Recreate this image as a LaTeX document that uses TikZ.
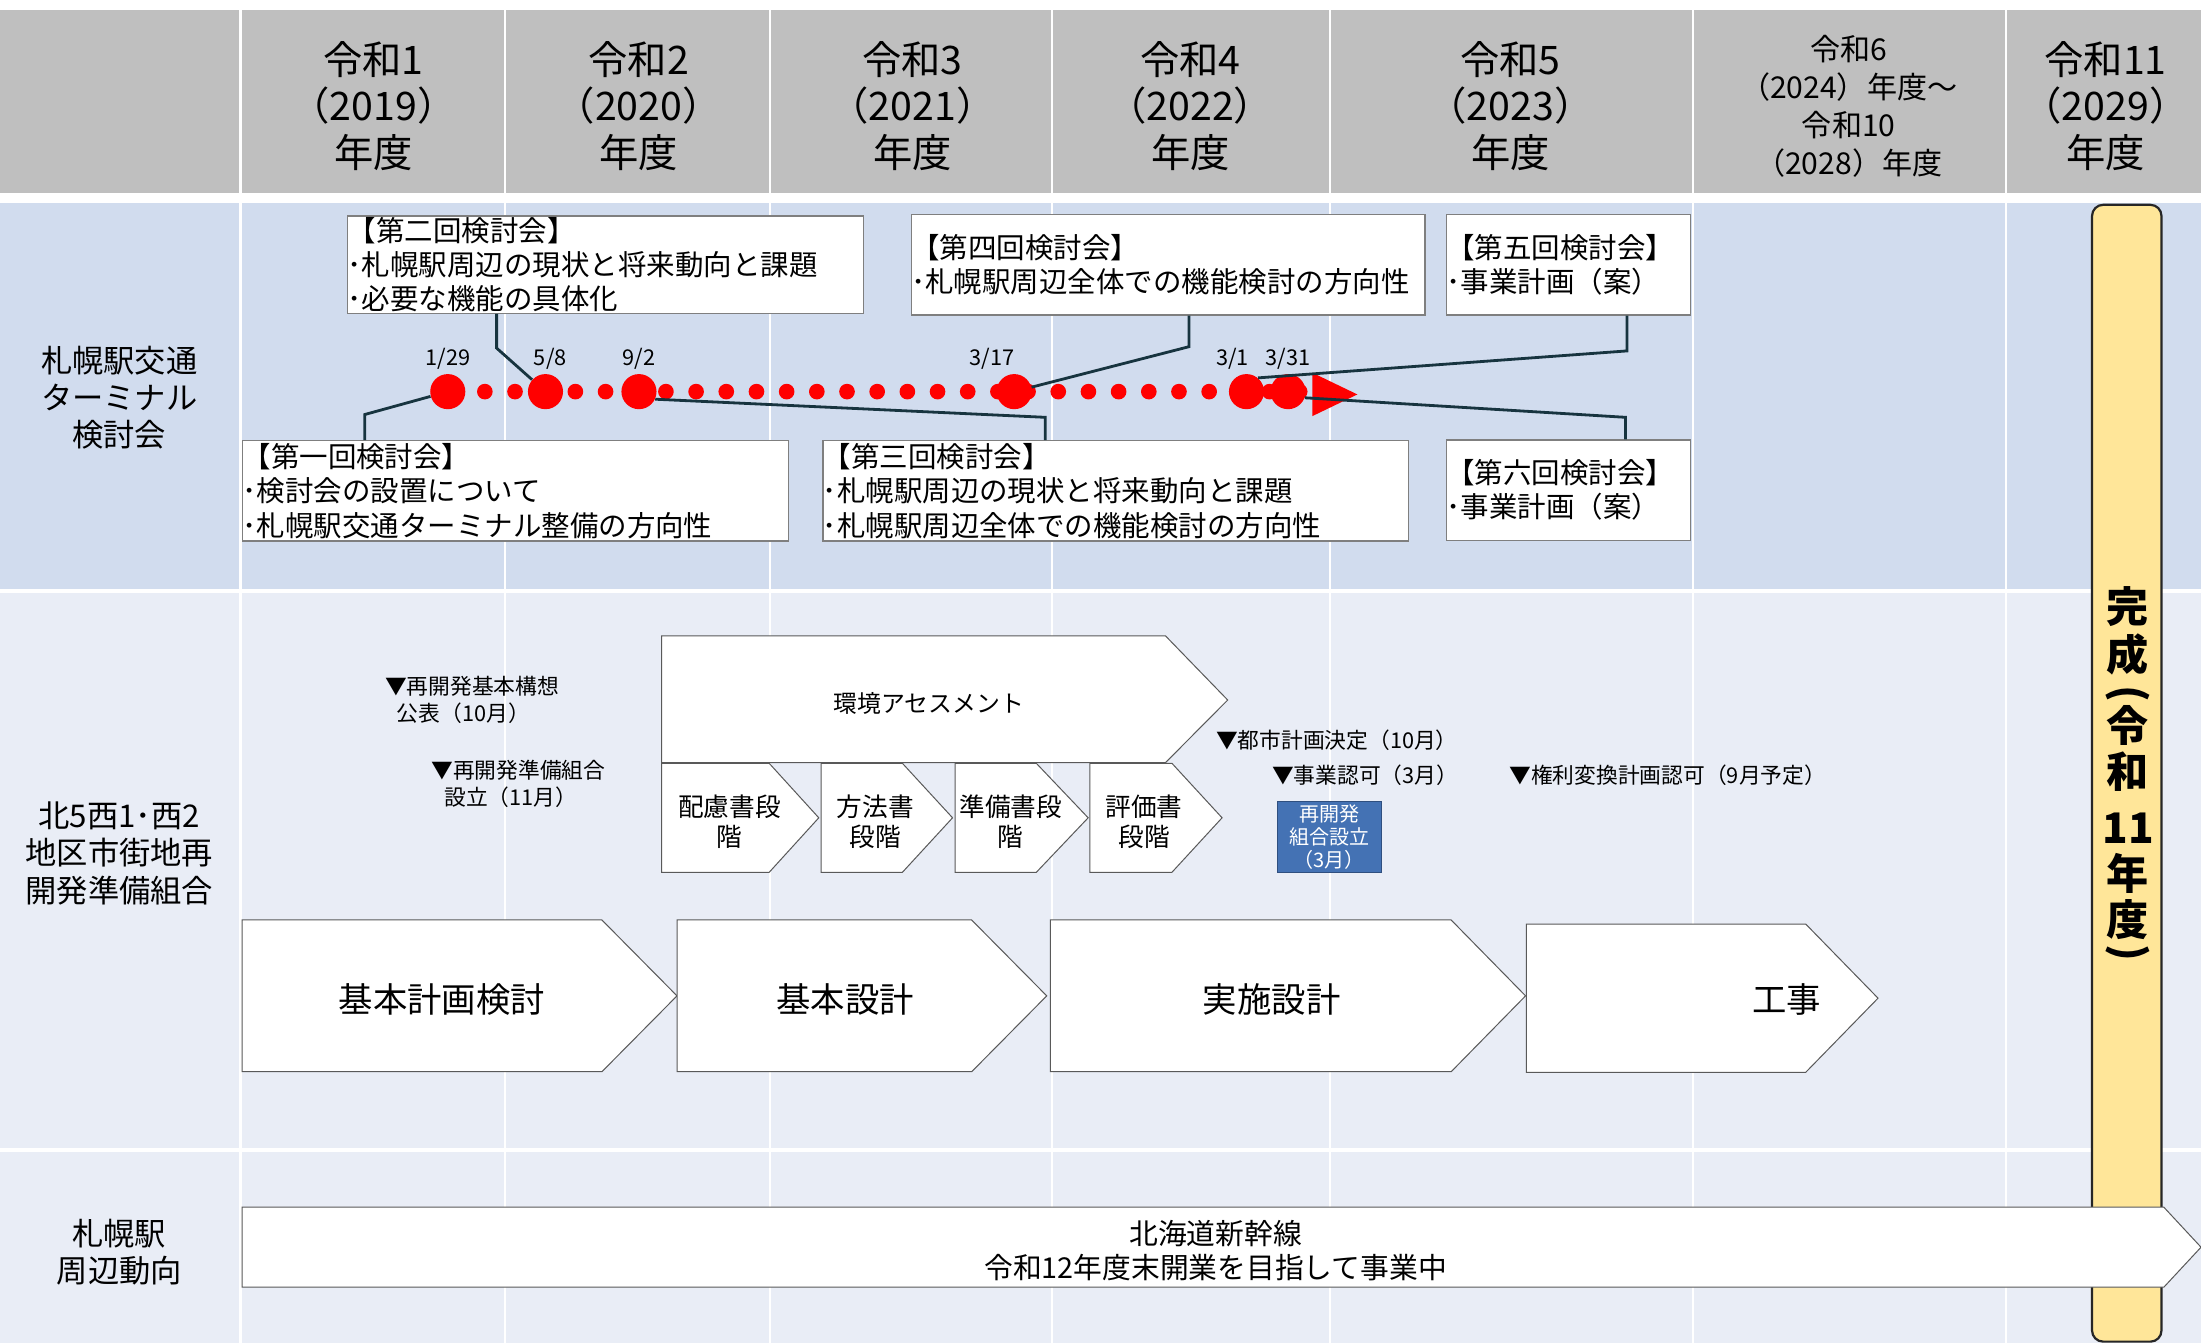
\documentclass[tikz,border=0pt]{standalone}
\usepackage{fontspec}
\setmainfont{Noto Sans CJK JP}
\usetikzlibrary{positioning}
\definecolor{hdrgray}{HTML}{BFBFBF}
\definecolor{bandA}{HTML}{D1DCEE}
\definecolor{bandB}{HTML}{E9EDF6}
\definecolor{boxline}{HTML}{7F7F7F}
\definecolor{chevline}{HTML}{595959}
\definecolor{connc}{HTML}{17343F}
\definecolor{kumiblue}{HTML}{4472B4}
\definecolor{kumiline}{HTML}{2F4F7F}
\definecolor{goalfill}{HTML}{FFE699}
\tikzset{
  hdr/.style={align=center, inner sep=0pt, font=\fontsize{19.6}{23.1}\selectfont},
  rowlbl/.style={align=center, inner sep=0pt, font=\fontsize{15.6}{18.5}\selectfont},
  kaibox/.style 2 args={draw=boxline, fill=white, line width=0.6pt, anchor=north west,
    inner xsep=0pt, inner ysep=0pt, text width=#1, minimum width=#1, minimum height=#2,
    align=left, font=\fontsize{14.2}{17.15}\selectfont},
  bigdot/.style={circle, fill=red, inner sep=0pt, minimum size=17.5pt},
  datelbl/.style={inner sep=0pt, font=\fontsize{10.85}{12}\selectfont},
  conn/.style={draw=connc, line width=1.4pt},
  chev/.style={draw=chevline, fill=white, line width=0.5pt},
  marktxt/.style={anchor=west, align=left, inner sep=0pt, font=\fontsize{10.85}{13.3}\selectfont},
  stagetxt/.style={align=center, inner sep=0pt, font=\fontsize{12.8}{14.9}\selectfont},
  bigtxt/.style={inner sep=0pt, font=\fontsize{17.15}{20}\selectfont},
  kumibox/.style={draw=kumiline, fill=kumiblue, text=white, line width=0.5pt,
    minimum width=51.8pt, minimum height=35.3pt, inner sep=0pt, align=center,
    font=\fontsize{10}{11.6}\selectfont},
  goalbar/.style={draw=black!85, fill=goalfill, line width=1.1pt, rounded corners=5.5pt,
    minimum width=34.6pt, minimum height=566.9pt, inner sep=0pt},
  goaltxt/.style={inner sep=0pt, font=\fontsize{21}{21}\selectfont\bfseries}
}
\begin{document}
\begin{tikzpicture}[x=0.7pt, y=-0.7pt]
  \useasboundingbox (0,0) rectangle (1568,957);
  % bands
  \fill[white] (0,0) rectangle (1568,957);
  \fill[hdrgray] (0,6.8) rectangle (1568,137.6);
  \fill[bandA] (0,144.6) rectangle (1568,419.8);
  \fill[bandB] (0,422.2) rectangle (1568,818);
  \fill[bandB] (0,820.5) rectangle (1568,957);
  \foreach \x in {171.4,359.8,548.7,749.6,947.2,1206.2,1428.8}
    \draw[white, line width=1.1pt] (\x,6.8) -- (\x,957);

  % header
  \foreach \x/\t [count=\i] in {266/{令和1\\（2019）\\年度}, 455/{令和2\\（2020）\\年度},
      650/{令和3\\（2021）\\年度}, 848/{令和4\\（2022）\\年度},
      1076/{令和5\\（2023）\\年度}, 1500/{令和11\\（2029）\\年度}}
    \node[hdr] (hd\i) at (\x,75.5) {\t};
  \node[hdr, font=\fontsize{15}{18.9}\selectfont] (hd7) at (1317,75.5)
    {令和6\\（2024）年度～\\令和10\\（2028）年度};

  % row labels
  \node[rowlbl] (rowa) at (85,283.5) {札幌駅交通\\ターミナル\\検討会};
  \node[rowlbl] (rowb) at (85,608) {北5西1･西2\\地区市街地再\\開発準備組合};
  \node[rowlbl] (rowc) at (85,892) {札幌駅\\周辺動向};

  % completion bar
  \node[goalbar] (goal) at (1515.1,550.85) {};
  \foreach \c/\y [count=\i] in {完/432.2, 成/466.1, 令/516.5, 和/549.7,
      11/590, 年/622, 度/655}
    \node[goaltxt] (gt\i) at (1516,\y) {\c};
  \node[goaltxt, rotate=-90] (gpo) at (1516,494) {(};
  \node[goaltxt, rotate=-90] (gpc) at (1516,679) {)};

  % meetings
  \node[kaibox={257.25pt}{48.5pt}] (kai2) at (247.3,153.5)
    {【第二回検討会】\\･札幌駅周辺の現状と将来動向と課題\\･必要な機能の具体化};
  \node[kaibox={256.2pt}{50pt}] (kai4) at (648.7,152.6)
    {【第四回検討会】\\･札幌駅周辺全体での機能検討の方向性};
  \node[kaibox={121.6pt}{50pt}] (kai5) at (1030,152.6)
    {【第五回検討会】\\･事業計画（案）};
  \node[kaibox={272.3pt}{50pt}] (kai1) at (172.4,313.5)
    {【第一回検討会】\\･検討会の設置について\\･札幌駅交通ターミナル整備の方向性};
  \node[kaibox={292pt}{50pt}] (kai3) at (585.8,313.5)
    {【第三回検討会】\\･札幌駅周辺の現状と将来動向と課題\\･札幌駅周辺全体での機能検討の方向性};
  \node[kaibox={121.6pt}{50pt}] (kai6) at (1030,313)
    {【第六回検討会】\\･事業計画（案）};

  % timeline
  \foreach \k in {0,...,27}
    \fill[red] ({345.4+21.5*\k},279) circle (3.9pt);
  \fill[red] (935,265.6) -- (967,281) -- (935,296.4) -- cycle;
  \node[bigdot] (d129) at (319,279) {};
  \node[bigdot] (d58) at (388.6,279) {};
  \node[bigdot] (d92) at (455.2,279) {};
  \node[bigdot] (d317) at (722.5,279) {};
  \node[bigdot] (d31) at (888,279) {};
  \node[bigdot] (d331) at (917.6,279) {};
  \node[datelbl, above=2pt of d129] (t129) {1/29};
  \node[datelbl, above=2pt of d58, xshift=2.4pt] (t58) {5/8};
  \node[datelbl, above=2pt of d92] (t92) {9/2};
  \node[datelbl, above=2pt of d317, xshift=-11pt] (t317) {3/17};
  \node[datelbl, above=2pt of d31, xshift=-7pt] (t31) {3/1};
  \node[datelbl, above=2pt of d331] (t331) {3/31};

  \draw[conn] (d129) -- (259.9,295.3) -- (kai1.north -| 259.9,0);
  \draw[conn] (kai2.south -| 353.8,0) -- (353.8,248) -- (d58);
  \draw[conn] (d92.-25) -- (744.6,297.3) -- (kai3.north -| 744.6,0);
  \draw[conn] (kai4.south -| 847,0) -- (847,247) -- (d317);
  \draw[conn] (kai5.south -| 1159,0) -- (1159,250) -- (d31.50);
  \draw[conn] (d331.-20) -- (1158,297.3) -- (kai6.north -| 1158,0);

  % redevelopment
  \node[marktxt] (m1) at (274,498.5) {▼再開発基本構想\\\hspace*{0.55em}公表（10月）};
  \node[marktxt] (m2) at (307,558.5) {▼再開発準備組合\\\hspace*{0.6em}設立（11月）};
  \node[marktxt] (m3) at (866,527) {▼都市計画決定（10月）};
  \node[marktxt] (m4) at (906,552) {▼事業認可（3月）};
  \node[marktxt] (m5) at (1075,552) {▼権利変換計画認可（9月予定）};

  \draw[chev] (471.4,453) -- (830.3,453) -- (874.6,498.7) -- (830.3,543.3) -- (471.4,543.3) -- cycle;
  \node[inner sep=0pt, font=\fontsize{11.9}{14}\selectfont] (asesu) at (661.7,500.9) {環境アセスメント};
  \foreach \xl/\xs/\xt/\tx/\t [count=\i] in {471.4/548/583.3/519.6/{配慮書段\\階},
      585/642.9/678.6/623.6/{方法書\\段階}, 680.4/738.3/775.2/720/{準備書段\\階},
      776.4/834.9/870.6/815/{評価書\\段階}}
  {
    \draw[chev] (\xl,543.8) -- (\xs,543.8) -- (\xt,582.6) -- (\xs,621.4) -- (\xl,621.4) -- cycle;
    \node[stagetxt] (st\i) at (\tx,585.4) {\t};
  }
  \node[kumibox] (kumiai) at (947,596.2) {再開発\\組合設立\\（3月）};

  \foreach \xl/\xs/\xt/\yt/\yb/\tx/\t [count=\i] in {172.4/428.8/482.3/655.4/763.5/314.8/基本計画検討,
      482.3/692.2/745.7/655.4/763.5/602.2/基本設計, 748.2/1033.8/1086.8/655.4/763.5/906/実施設計,
      1087.3/1286.4/1337.9/658.3/763.9/1272.8/工事}
  {
    \draw[chev] (\xl,\yt) -- (\xs,\yt) -- (\xt,{(\yt+\yb)/2}) -- (\xs,\yb) -- (\xl,\yb) -- cycle;
    \node[bigtxt] (ph\i) at (\tx,712) {\t};
  }

  % around the station
  \draw[chev] (172.4,860) -- (1541.5,860) -- (1568,888.5) -- (1541.5,917) -- (172.4,917) -- cycle;
  \node[align=center, inner sep=0pt, font=\fontsize{14.35}{16.8}\selectfont] (shinkan) at (866,891)
    {北海道新幹線\\令和12年度末開業を目指して事業中};
\end{tikzpicture}
\end{document}
